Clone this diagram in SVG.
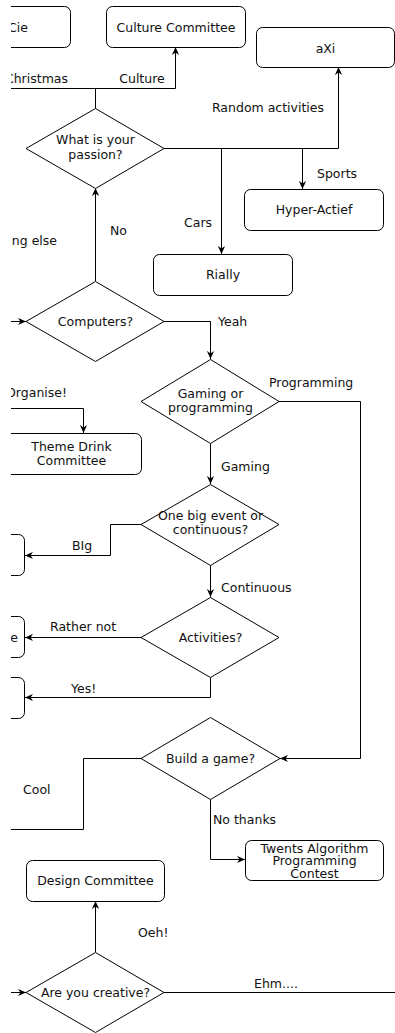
<svg xmlns="http://www.w3.org/2000/svg" width="395" height="1033" viewBox="0 0 395 1033">
<style>
text{font-family:"DejaVu Sans","Liberation Sans",sans-serif;font-size:12.5px;fill:#111}
.c{text-anchor:middle}
.e{text-anchor:end}
.box{fill:#fff;stroke:#000;stroke-width:1}
.dia{fill:#fff;stroke:#000;stroke-width:1}
.ln{fill:none;stroke:#000;stroke-width:1}
</style>
<defs>
<marker id="arr" viewBox="0 0 10 10" refX="10" refY="5" markerWidth="8" markerHeight="8" markerUnits="userSpaceOnUse" orient="auto">
<path d="M0,0.5 L10,5 L0,9.5 L3,5 z" fill="#000"/>
</marker>
<clipPath id="clip"><rect x="11" y="0" width="384" height="1033"/></clipPath>
</defs>
<rect x="0" y="0" width="395" height="1033" fill="#fff"/>
<g clip-path="url(#clip)">
<g id="connectors">
<path class="ln" d="M95.5,108 V88.5 H175.5 V47" marker-end="url(#arr)"/>
<path class="ln" d="M95.5,88.5 H0"/>
<path class="ln" d="M164,148.5 H338.5 V67" marker-end="url(#arr)"/>
<path class="ln" d="M221.5,148.5 V254" marker-end="url(#arr)"/>
<path class="ln" d="M302.5,148.5 V189" marker-end="url(#arr)"/>
<path class="ln" d="M95.5,281 V188" marker-end="url(#arr)"/>
<path class="ln" d="M0,321.5 H26" marker-end="url(#arr)"/>
<path class="ln" d="M164,321.5 H210.5 V359" marker-end="url(#arr)"/>
<path class="ln" d="M0,408.5 H83.5 V433" marker-end="url(#arr)"/>
<path class="ln" d="M279,401.5 H360.5 V758.5 H280" marker-end="url(#arr)"/>
<path class="ln" d="M210.5,443 V484" marker-end="url(#arr)"/>
<path class="ln" d="M141,524.5 H110.5 V555.5 H25" marker-end="url(#arr)"/>
<path class="ln" d="M210.5,565 V597" marker-end="url(#arr)"/>
<path class="ln" d="M141,637.5 H25" marker-end="url(#arr)"/>
<path class="ln" d="M210.5,677 V697.5 H25" marker-end="url(#arr)"/>
<path class="ln" d="M141,758.5 H83.5 V829.5 H0"/>
<path class="ln" d="M210.5,799 V859.5 H245" marker-end="url(#arr)"/>
<path class="ln" d="M95.5,952 V901" marker-end="url(#arr)"/>
<path class="ln" d="M0,992.5 H26" marker-end="url(#arr)"/>
<path class="ln" d="M164,992.5 H395"/>
</g>
<g id="edge-labels">
<text x="68" y="83" class="e">Christmas</text>
<text x="142" y="83" class="c">Culture</text>
<text x="268" y="112" class="c">Random activities</text>
<text x="317" y="178">Sports</text>
<text x="184" y="227">Cars</text>
<text x="110" y="235">No</text>
<text x="57" y="245" class="e">ng else</text>
<text x="218" y="326">Yeah</text>
<text x="67" y="397" class="e">Organise!</text>
<text x="269" y="387">Programming</text>
<text x="221" y="471">Gaming</text>
<text x="72" y="550">BIg</text>
<text x="221" y="592">Continuous</text>
<text x="50" y="631">Rather not</text>
<text x="71" y="693">Yes!</text>
<text x="23" y="794">Cool</text>
<text x="213" y="824">No thanks</text>
<text x="138" y="937">Oeh!</text>
<text x="254" y="988">Ehm....</text>
</g>
<g id="cie"><rect class="box" x="-68.5" y="6.5" width="139" height="41" rx="6"/><text x="28" y="32" class="e">Cie</text></g>
<g id="culture"><rect class="box" x="106.5" y="6.5" width="139" height="41" rx="6"/><text x="176" y="32" class="c">Culture Committee</text></g>
<g id="axi"><rect class="box" x="256.5" y="27.5" width="138" height="40" rx="6"/><text x="325.5" y="53" class="c">aXi</text></g>
<g id="passion"><polygon class="dia" points="26,148.5 95.5,108.5 164,148.5 95.5,188.5"/><text x="95.5" y="144" class="c">What is your</text><text x="95.5" y="159" class="c">passion?</text></g>
<g id="hyper"><rect class="box" x="244.5" y="189.5" width="139" height="41" rx="6"/><text x="314" y="214" class="c">Hyper-Actief</text></g>
<g id="rially"><rect class="box" x="153.5" y="254.5" width="139" height="41" rx="6"/><text x="223" y="279" class="c">Rially</text></g>
<g id="computers"><polygon class="dia" points="26,321.5 95.5,281.5 164,321.5 95.5,361.5"/><text x="95.5" y="325.5" class="c">Computers?</text></g>
<g id="themedrink"><rect class="box" x="1.5" y="433.5" width="140" height="41" rx="6"/><text x="71.5" y="451" class="c">Theme Drink</text><text x="71.5" y="465" class="c">Committee</text></g>
<g id="gamingprog"><polygon class="dia" points="141,401.5 210.5,359.5 279,401.5 210.5,443.5"/><text x="210.5" y="398" class="c">Gaming or</text><text x="210.5" y="412" class="c">programming</text></g>
<g id="onebig"><polygon class="dia" points="141,524.5 210.5,484.5 279,524.5 210.5,565.5"/><text x="210.5" y="520" class="c">One big event or</text><text x="210.5" y="534" class="c">continuous?</text></g>
<g id="leftbox1"><rect class="box" x="-114.5" y="534.5" width="139" height="41" rx="6"/></g>
<g id="activities"><polygon class="dia" points="141,637.5 210.5,597.5 279,637.5 210.5,677.5"/><text x="210.5" y="641.5" class="c">Activities?</text></g>
<g id="leftbox2"><rect class="box" x="-114.5" y="616.5" width="139" height="41" rx="6"/><text x="18" y="641.5" class="e">e</text></g>
<g id="leftbox3"><rect class="box" x="-114.5" y="677.5" width="139" height="41" rx="6"/></g>
<g id="buildgame"><polygon class="dia" points="141,758.5 210.5,717.5 280,758.5 210.5,799.5"/><text x="210.5" y="762.5" class="c">Build a game?</text></g>
<g id="twents"><rect class="box" x="245.5" y="840.5" width="138" height="40" rx="6"/><text x="314.5" y="852.5" class="c">Twents Algorithm</text><text x="314.5" y="865" class="c">Programming</text><text x="314.5" y="877.5" class="c">Contest</text></g>
<g id="design"><rect class="box" x="26.5" y="860.5" width="138" height="41" rx="6"/><text x="95.5" y="885" class="c">Design Committee</text></g>
<g id="creative"><polygon class="dia" points="26,992.5 95.5,952.5 164,992.5 95.5,1032.5"/><text x="95.5" y="996.5" class="c">Are you creative?</text></g>
</g>
</svg>
